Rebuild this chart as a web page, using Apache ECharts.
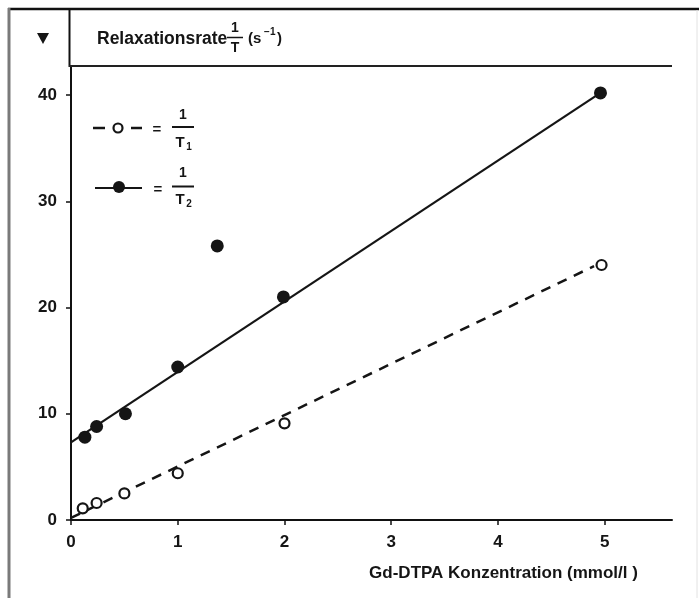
<!DOCTYPE html>
<html>
<head>
<meta charset="utf-8">
<script src="https://cdn.jsdelivr.net/npm/echarts@6/dist/echarts.min.js"></script>
<style>
html,body{margin:0;padding:0;background:#fff;}
#chart{width:699px;height:598px;}
</style>
</head>
<body>
<div id="chart"></div>
<script>
// ---- data ----
var t1X = [0.11, 0.24, 0.5, 1.0, 2.0, 4.97];
var t1Y = [1.1, 1.6, 2.5, 4.4, 9.1, 24.0];
var t2X = [0.13, 0.24, 0.51, 1.0, 1.37, 1.99, 4.96];
var t2Y = [7.8, 8.8, 10.0, 14.4, 25.8, 21.0, 40.2];
var fitT1X = [0, 4.9];
var fitT1Y = [0.2, 23.9];
var fitT2X = [0, 4.96];
var fitT2Y = [7.3, 40.2];
var xTicks = [0, 1, 2, 3, 4, 5];
var yTicks = [0, 10, 20, 30, 40];
var xName = 'Gd-DTPA Konzentration (mmol/l )';
var titleText = 'Relaxationsrate';

function pairs(xs, ys) { return xs.map(function (x, i) { return [x, ys[i]]; }); }

var FONT = 'Liberation Sans';
var INK = '#151515';

var chart = echarts.init(document.getElementById('chart'), null, {renderer: 'canvas'});

function txt(text, x, y, size, align, weight) {
  return {type: 'text', x: x, y: y, z: 10, style: {text: text, fill: INK, font: (weight || 'bold') + ' ' + size + 'px "' + FONT + '"', textAlign: align || 'left', textVerticalAlign: 'middle'}};
}
function ln(x1, y1, x2, y2, w, color, dash) {
  return {type: 'line', z: 10, shape: {x1: x1, y1: y1, x2: x2, y2: y2}, style: {stroke: color || INK, lineWidth: w, lineDash: dash || null}};
}

var graphics = [
  // frame
  ln(8, 9, 699, 9, 2.5, '#111'),
  ln(9, 8, 9, 598, 3, '#7a7a7a'),
  ln(697, 10, 697, 598, 1, '#e2e2e2'),
  ln(69.5, 9, 69.5, 67, 2, '#111'),
  ln(69, 66, 672, 66, 2, '#222'),
  // header
  {type: 'polygon', z: 10, shape: {points: [[37, 33], [49, 33], [43, 44]]}, style: {fill: INK}},
  txt(titleText, 97, 39, 17.5),
  txt('1', 235, 28, 14, 'center'),
  ln(227, 37.5, 243, 37.5, 1.5),
  txt('T', 235, 48, 14, 'center'),
  txt('(s', 248, 39, 15),
  txt('\u2212', 264, 32, 10),
  txt('1', 270, 32, 10),
  txt(')', 277, 39, 15),
  // legend row 1
  ln(93, 128, 105, 128, 2.5),
  {type: 'circle', z: 10, shape: {cx: 118, cy: 128, r: 4.5}, style: {fill: '#fff', stroke: INK, lineWidth: 2.2}},
  ln(131, 128, 142, 128, 2.5),
  txt('=', 157, 130, 15, 'center'),
  txt('1', 183, 115, 14, 'center'),
  ln(172, 127, 194, 127, 2),
  txt('T', 180, 143, 15, 'center'),
  txt('1', 189, 147, 10, 'center'),
  // legend row 2
  ln(95, 188, 142, 188, 2),
  {type: 'circle', z: 10, shape: {cx: 119, cy: 187, r: 6}, style: {fill: INK}},
  txt('=', 158, 190, 15, 'center'),
  txt('1', 183, 173, 14, 'center'),
  ln(172, 186.5, 194, 186.5, 2),
  txt('T', 180, 200, 15, 'center'),
  txt('2', 189, 204, 10, 'center')
];

var option = {
  animation: false,
  backgroundColor: '#fff',
  grid: {left: 71, right: 27, top: 66, bottom: 78, containLabel: false, outerBoundsMode: 'none'},
  xAxis: {
    type: 'value', min: 0, max: 5.63, interval: 1,
    name: xName, nameLocation: 'middle', nameGap: 45,
    nameTextStyle: {color: INK, fontFamily: FONT, fontWeight: 'bold', fontSize: 17, padding: [0, 0, 0, 264]},
    axisLine: {lineStyle: {color: '#111', width: 2}},
    axisTick: {show: true, inside: false, length: 5, lineStyle: {color: '#111', width: 1.5}, customValues: xTicks},
    axisLabel: {color: INK, fontFamily: FONT, fontWeight: 'bold', fontSize: 17, margin: 14, customValues: xTicks},
    splitLine: {show: false}
  },
  yAxis: {
    type: 'value', min: 0, max: 42.73, interval: 10,
    axisLine: {show: true, lineStyle: {color: '#111', width: 2}},
    axisTick: {show: true, inside: false, length: 5, lineStyle: {color: '#111', width: 1.5}, customValues: yTicks},
    axisLabel: {color: INK, fontFamily: FONT, fontWeight: 'bold', fontSize: 17, margin: 14, customValues: yTicks},
    splitLine: {show: false}
  },
  series: [
    {type: 'line', data: pairs(fitT2X, fitT2Y), symbol: 'none', lineStyle: {color: INK, width: 2.2}, z: 2, silent: true},
    {type: 'line', data: pairs(fitT1X, fitT1Y), symbol: 'none', lineStyle: {color: INK, width: 2.5, type: [10, 8]}, z: 2, silent: true},
    {type: 'scatter', data: pairs(t2X, t2Y), symbol: 'circle', symbolSize: 13, itemStyle: {color: INK, opacity: 1}, z: 3},
    {type: 'scatter', data: pairs(t1X, t1Y), symbol: 'circle', symbolSize: 10, itemStyle: {color: '#fff', borderColor: INK, borderWidth: 2.2, opacity: 1}, z: 4}
  ],
  graphic: graphics
};
chart.setOption(option);
</script>
</body>
</html>
